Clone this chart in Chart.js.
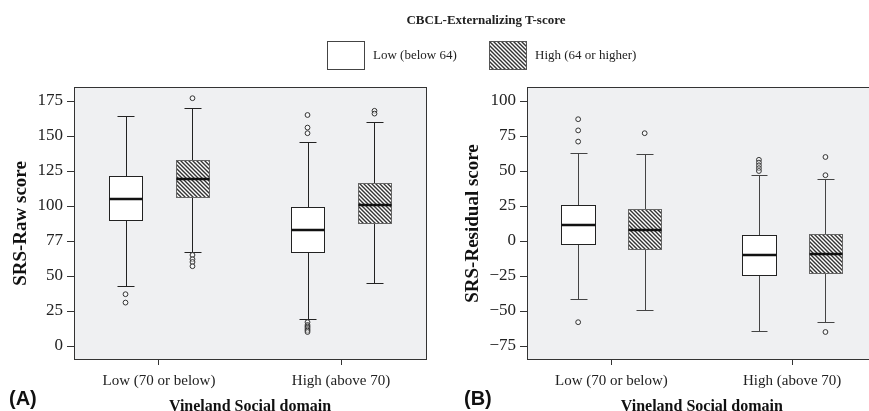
<!DOCTYPE html>
<html><head><meta charset="utf-8">
<script src="https://cdn.jsdelivr.net/npm/chart.js@4/dist/chart.umd.min.js"></script>
<style>
html,body{margin:0;padding:0;background:#fff;width:869px;height:411px;overflow:hidden;position:relative;}
canvas.ch{position:absolute;top:0;}
#c1{left:0;}
#c2{left:440px;}
.t{position:absolute;font-family:"Liberation Serif","Times New Roman",serif;color:#222;white-space:nowrap;z-index:2;}
#title{left:386px;width:200px;text-align:center;top:12px;font-size:13px;line-height:16px;font-weight:bold;}
#lg1box{position:absolute;left:327px;top:41px;width:36px;height:27px;border:1px solid #444;background:#fff;z-index:2;}
#lg2box{position:absolute;left:489px;top:41px;z-index:2;}
#lg1txt{left:373px;top:47px;font-size:13px;line-height:16px;}
#lg2txt{left:535px;top:47px;font-size:13px;line-height:16px;}
.p{position:absolute;font-family:"Liberation Sans",Arial,sans-serif;font-weight:bold;font-size:20px;line-height:20px;color:#111;top:388px;z-index:2;}
#pA{left:9px;}
#pB{left:464px;}
</style></head>
<body>
<div class="t" id="title">CBCL-Externalizing T-score</div>
<div id="lg1box"></div><div class="t" id="lg1txt">Low (below 64)</div>
<canvas id="lg2box" width="38" height="29"></canvas><div class="t" id="lg2txt">High (64 or higher)</div>
<canvas class="ch" id="c1" width="440" height="418" style="width:440px;height:418px"></canvas>
<canvas class="ch" id="c2" width="440" height="418" style="width:440px;height:418px"></canvas>
<div class="p" id="pA">(A)</div>
<div class="p" id="pB">(B)</div>
<script>
// ---- data ----
const categories = ['Low (70 or below)', 'High (above 70)'];
const seriesNames = ['Low (below 64)', 'High (64 or higher)'];
// per category: [lower whisker, Q1, median, Q3, upper whisker]
const rawLowBox  = [[43, 89.7, 105, 121.5, 164], [19, 67, 83, 99, 146]];
const rawHighBox = [[67, 106.5, 119, 132.7, 170], [45, 88, 101, 116.5, 160]];
const rawLowOutliers  = [[37, 31], [165, 156, 152, 17, 15, 14, 13, 12, 11, 10]];
const rawHighOutliers = [[177, 65, 62, 60, 57], [168, 166]];
const resLowBox  = [[-41.5, -2, 11.5, 26, 63], [-64.5, -24.5, -10, 4.5, 47]];
const resHighBox = [[-49, -5.5, 8, 23, 62], [-57.5, -22.5, -9, 5, 44.5]];
const resLowOutliers  = [[87, 79, 71, -58], [58, 56, 54, 52, 50]];
const resHighOutliers = [[77], [60, 47, -65]];
const rawTickValues = [0, 25, 50, 75, 100, 125, 150, 175];
const rawTickLabels = ['0', '25', '50', '77', '100', '125', '150', '175'];
const resTickValues = [-75, -50, -25, 0, 25, 50, 75, 100];
const resTickLabels = ['\u221275', '\u221250', '\u221225', '0', '25', '50', '75', '100'];

// ---- styling ----
const SERIF = '"Liberation Serif","Times New Roman",serif';
const plotBg = '#eff0f2';
const groupOffset = 0.184;   // distance of each box from category centre (x units)
const boxHalf = 0.093;       // half width of a box (x units)

function makeHatch(){
  const t = document.createElement('canvas'); t.width = 4; t.height = 4;
  const c = t.getContext('2d');
  c.fillStyle = '#fff'; c.fillRect(0,0,4,4);
  c.strokeStyle = '#333'; c.lineWidth = 1.4;
  c.beginPath();
  c.moveTo(-1,-1); c.lineTo(5,5);
  c.moveTo(-1,3); c.lineTo(1,5);
  c.moveTo(3,-1); c.lineTo(5,1);
  c.stroke();
  return t;
}
const hatchTile = makeHatch();
(function(){
  const lc = document.getElementById('lg2box'); const c = lc.getContext('2d');
  c.fillStyle = c.createPattern(hatchTile, 'repeat'); c.fillRect(0,0,38,29);
  c.strokeStyle = '#555'; c.lineWidth = 1; c.strokeRect(0.5,0.5,37,28);
})();

const boxPlugin = {
  id: 'boxPlot',
  beforeDraw(chart){
    const {ctx, chartArea:a} = chart;
    ctx.save(); ctx.fillStyle = plotBg;
    ctx.fillRect(a.left, a.top, a.right-a.left, a.bottom-a.top);
    ctx.restore();
  },
  beforeDatasetsDraw(chart){
    const {ctx, scales:{x, y}} = chart;
    const wc = chart.options.plugins.boxPlot.whiskerColor;
    chart.data.datasets.forEach(ds => {
      ds.boxes.forEach((b, i) => {
        const xv = i + 1 + ds.xOff;
        const cx = Math.round(x.getPixelForValue(xv)) + 0.5;
        const l = Math.round(x.getPixelForValue(xv - boxHalf)) + 0.5;
        const r = Math.round(x.getPixelForValue(xv + boxHalf)) + 0.5;
        const cl = Math.round(x.getPixelForValue(xv - boxHalf/2)) + 0.5;
        const cr = Math.round(x.getPixelForValue(xv + boxHalf/2)) + 0.5;
        const [wlo, q1, med, q3, whi] = b.map(v => Math.round(y.getPixelForValue(v)) + 0.5);
        ctx.save();
        ctx.strokeStyle = wc; ctx.lineWidth = 1;
        ctx.beginPath();
        ctx.moveTo(cx, whi); ctx.lineTo(cx, q3);
        ctx.moveTo(cx, q1); ctx.lineTo(cx, wlo);
        ctx.moveTo(cl, whi); ctx.lineTo(cr, whi);
        ctx.moveTo(cl, wlo); ctx.lineTo(cr, wlo);
        ctx.stroke();
        ctx.fillStyle = ds.boxFill === 'hatch' ? ctx.createPattern(hatchTile, 'repeat') : '#fff';
        ctx.fillRect(l, q3, r-l, q1-q3);
        ctx.strokeStyle = ds.boxBorder;
        ctx.strokeRect(l, q3, r-l, q1-q3);
        ctx.strokeStyle = '#111'; ctx.lineWidth = 2.5;
        ctx.beginPath(); ctx.moveTo(l, med-0.5); ctx.lineTo(r, med-0.5); ctx.stroke();
        ctx.restore();
      });
    });
  },
  afterDraw(chart){
    const {ctx, chartArea:a} = chart;
    ctx.save(); ctx.strokeStyle = '#333'; ctx.lineWidth = 1;
    ctx.strokeRect(Math.round(a.left)+0.5, Math.round(a.top)+0.5, Math.round(a.right-a.left), Math.round(a.bottom-a.top)-1);
    ctx.restore();
  }
};

function points(lists, off){
  const pts = [];
  lists.forEach((vals, i) => vals.forEach(v => pts.push({x: i + 1 + off, y: v})));
  return pts;
}

function makeChart(id, o){
  return new Chart(document.getElementById(id), {
    type: 'scatter',
    data: { datasets: [
      { label: seriesNames[0], data: points(o.lowOut, -groupOffset), boxes: o.lowBox, xOff: -groupOffset, boxFill: 'white', boxBorder: '#222' },
      { label: seriesNames[1], data: points(o.highOut, groupOffset), boxes: o.highBox, xOff: groupOffset, boxFill: 'hatch', boxBorder: '#666' }
    ]},
    options: {
      responsive: false, animation: false,
      layout: { padding: { top: 87, right: o.padRight, left: 0, bottom: 1 } },
      elements: { point: { radius: 2.4, borderWidth: 1, borderColor: '#333', backgroundColor: 'rgba(255,255,255,0.5)', hoverRadius: 2.4 } },
      plugins: { legend: { display: false }, tooltip: { enabled: false }, boxPlot: { whiskerColor: o.whiskerColor } },
      scales: {
        x: {
          type: 'linear', min: 0.533, max: 2.467,
          afterBuildTicks: s => { s.ticks = categories.map((c, i) => ({ value: i + 1 })); },
          afterFit: s => { s.height = 57; },
          ticks: { callback: v => categories[Math.round(v) - 1], font: { family: SERIF, size: 15 }, color: '#222', padding: 7, maxRotation: 0, autoSkip: false },
          grid: { drawOnChartArea: false, tickLength: 5, color: '#333' },
          border: { display: false },
          title: { display: true, text: 'Vineland Social domain', font: { family: SERIF, size: 16, weight: 'bold' }, color: '#111', padding: { top: 0, bottom: 1 } }
        },
        y: {
          min: o.yMin, max: o.yMax,
          afterBuildTicks: s => { s.ticks = o.tickValues.map(v => ({ value: v })); },
          afterFit: s => { s.width = o.yWidth; },
          ticks: { callback: v => o.tickLabels[o.tickValues.indexOf(v)], font: { family: SERIF, size: 17 }, color: '#222', padding: 4 },
          grid: { drawOnChartArea: false, tickLength: 7, color: '#333' },
          border: { display: false },
          title: { display: true, text: o.yTitle, font: { family: SERIF, size: 19, weight: 'bold' }, color: '#111', padding: { top: o.titlePad, bottom: 0 } }
        }
      }
    },
    plugins: [boxPlugin]
  });
}

makeChart('c1', { lowBox: rawLowBox, highBox: rawHighBox, lowOut: rawLowOutliers, highOut: rawHighOutliers,
  yMin: -10, yMax: 185, tickValues: rawTickValues, tickLabels: rawTickLabels, yTitle: 'SRS-Raw score',
  yWidth: 74, titlePad: 10, padRight: 14, whiskerColor: '#222' });
makeChart('c2', { lowBox: resLowBox, highBox: resHighBox, lowOut: resLowOutliers, highOut: resHighOutliers,
  yMin: -85, yMax: 110, tickValues: resTickValues, tickLabels: resTickLabels, yTitle: 'SRS-Residual score',
  yWidth: 87, titlePad: 22, padRight: 1, whiskerColor: '#444' });
</script>
</body></html>
